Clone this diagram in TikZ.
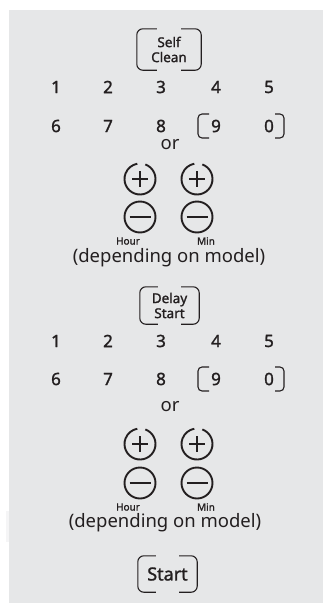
\documentclass[tikz,border=0pt]{standalone}
\usepackage{fontspec}
\setmainfont{Noto Sans}
\newfontfamily\medfont{Noto Sans}[FakeBold=1.4]
\usepackage{xcolor}
\usetikzlibrary{calc}
\definecolor{panel}{HTML}{E6E7E8}
\definecolor{ink}{HTML}{231F20}
\tikzset{
  keytext/.style={inner sep=0pt, text=ink, align=center, font=\medfont\fontsize{13.5}{15}\selectfont},
  digit/.style={inner sep=0pt, text=ink, font=\medfont\fontsize{17}{17}\selectfont},
  plain/.style={inner sep=0pt, text=ink, font=\fontsize{18.5}{18.5}\selectfont},
  tiny/.style={inner sep=0pt, text=ink, font=\medfont\fontsize{10}{10}\selectfont},
  keyline/.style={draw=ink, line width=1.1pt, rounded corners=6pt},
  dial/.style={circle, inner sep=0pt, minimum size=31pt}
}
\begin{document}
\begin{tikzpicture}[x=1pt, y=-1pt]
    % 1. 背景面板
    \useasboundingbox (0,0) rectangle (323,603);
    \fill[panel] (9,10) rectangle (323,603);
    \fill[panel!40] (6,511) rectangle (9,542);

    % 2. 按键 (Self Clean / Delay Start / Start)
    \node[keytext, minimum width=64pt, minimum height=41pt] (selfclean) at (169,49.5) {Self\\Clean};
    \node[keytext, minimum width=59pt, minimum height=37pt] (delaystart) at (169.5,305.5) {Delay\\Start};
    \node[keytext, minimum width=59pt, minimum height=36pt, font=\medfont\fontsize{18}{18}\selectfont] (startkey) at (167.5,574) {Start};
    \foreach \n/\s in {selfclean/20, delaystart/18, startkey/18} {
        \draw[keyline] ($(\n.north west)+(\s,0)$) -- (\n.north west) -- (\n.south west) -- ++(\s,0);
        \draw[keyline] ($(\n.north east)+(-\s,0)$) -- (\n.north east) -- (\n.south east) -- ++(-\s,0);
    }

    % 3. 数字键 (两组)
    \foreach \g/\ya/\yb in {a/87/126, b/341/379} {
        \foreach \d/\x in {1/56, 2/108, 3/161, 4/216, 5/269}
            \node[digit] (\g\d) at (\x,\ya) {\d};
        \foreach \d/\x in {6/56, 7/108, 8/161, 9/216, 0/269}
            \node[digit] (\g\d) at (\x,\yb) {\d};
        % 9 与 0 的括号
        \draw[keyline, rounded corners=4pt] ($(\g9)+(-7,-12)$) -- ($(\g9)+(-18,-12)$) -- ($(\g9)+(-18,12)$) -- ($(\g9)+(-7,12)$);
        \draw[keyline, rounded corners=4pt] ($(\g0)+(6,-12)$) -- ($(\g0)+(15,-12)$) -- ($(\g0)+(15,12)$) -- ($(\g0)+(6,12)$);
    }

    % 4. "or" 与 Hour / Min 旋钮
    \foreach \g/\yo/\yp/\ym/\yh/\yd/\xd in {a/145/179/217/241/258/169, b/407/444/483/507/523/165} {
        \node[plain] (or\g) at (170,\yo) {or};
        \foreach \k/\x in {h/140, m/197} {
            \node[dial] (\g\k plus) at (\x,\yp) {};
            \node[dial] (\g\k minus) at (\x,\ym) {};
            \draw[ink, line width=1.9pt] (\g\k plus) ++(-70:15.5) arc[start angle=-70, end angle=260, radius=15.5];
            \draw[ink, line width=2.3pt] ($(\g\k plus)+(-8,0)$) -- ($(\g\k plus)+(8,0)$);
            \draw[ink, line width=2.3pt] ($(\g\k plus)+(0,-8)$) -- ($(\g\k plus)+(0,8)$);
            \draw[ink, line width=1.9pt] (\g\k minus) circle (15.5);
            \draw[ink, line width=2.3pt] ($(\g\k minus)+(-10.5,0)$) -- ($(\g\k minus)+(10.5,0)$);
        }
        \node[tiny] (hour\g) at (128,\yh) {Hour};
        \node[tiny] (min\g) at (206,\yh) {Min};
        \node[plain] (model\g) at (\xd,\yd) {(depending on model)};
    }
\end{tikzpicture}
\end{document}
